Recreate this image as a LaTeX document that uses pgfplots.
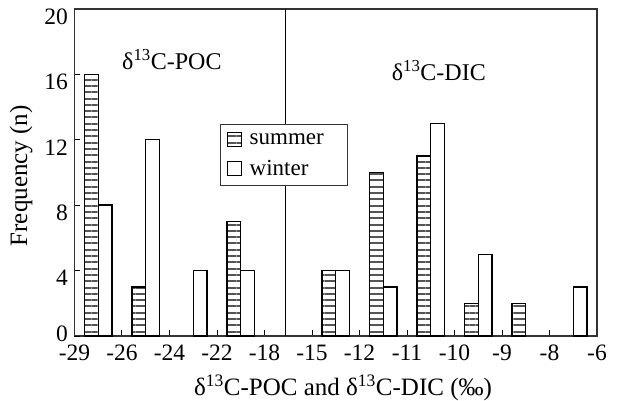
\documentclass[border=0pt]{standalone}
\usepackage{fontspec}
\setmainfont{Liberation Serif}
\usepackage{pgfplots}
\pgfplotsset{compat=1.18}
\usetikzlibrary{patterns.meta}
\definecolor{axgray}{HTML}{333333}
\definecolor{stripe}{HTML}{555555}
\begin{document}
\begin{tikzpicture}
\begin{axis}[
  name=ax,
  scale only axis,
  width=522.5bp, height=327bp,
  xmin=0, xmax=11, ymin=0, ymax=20,
  xtick={0,...,11},
  xticklabels={-29,-26,-24,-22,-18,-15,-12,-11,-10,-9,-8,-6},
  ytick={4,8,...,20},
  extra y ticks={0},
  extra y tick style={yticklabel style={yshift=10bp}},
  tick align=inside,
  xtick pos=bottom, ytick pos=left,
  major tick length=6bp,
  axis line style={line width=1.6bp, axgray},
  tick style={line width=1bp, black},
  /pgf/number format/assume math mode=true,
  tick label style={font=\fontsize{23.5bp}{27bp}\selectfont},
  xticklabel style={yshift=-5bp},
  yticklabel style={xshift=-3bp, yshift=-7.5bp},
  xlabel={δ\textsuperscript{13}C-POC and δ\textsuperscript{13}C-DIC (‰)},
  ylabel={Frequency (n)},
  label style={font=\fontsize{25bp}{30bp}\selectfont},
  xlabel style={at={(axis description cs:0.514,-0.158)}, anchor=center},
  ylabel style={at={(axis description cs:-0.102,0.49)}, anchor=center, rotate=0},
  legend style={at={(axis description cs:0.2785,0.648)}, anchor=north west,
    draw=axgray, line width=1bp, fill=white,
    font=\fontsize{23bp}{27bp}\selectfont,
    inner xsep=6bp, inner ysep=7bp, row sep=10bp,
    /tikz/every odd column/.append style={column sep=6bp},
    cells={anchor=west}},
  legend image code/.code={\draw[#1, line width=1.2bp] (0bp,-7bp) rectangle (14bp,7bp);},
  clip=false,
]
\addplot[ybar, bar width=0.29, bar shift=0, draw=black, line width=1.4bp,
  pattern={Lines[angle=0,distance=6.3bp,line width=2bp]}, pattern color=stripe]
  coordinates {(0.355,16) (1.355,3) (3.355,7) (5.355,4) (6.355,10) (7.355,11) (8.355,2) (9.355,2)};
\addlegendentry{summer\rule{16bp}{0pt}}
\addplot[ybar, bar width=0.29, bar shift=0, draw=black, fill=white, line width=1.4bp]
  coordinates {(0.645,8) (1.645,12) (2.645,4) (3.645,4) (5.645,4) (6.645,3) (7.645,13) (8.645,5) (10.645,3)};
\addlegendentry{winter}
\addplot[black, line width=1.2bp, forget plot] coordinates {(4.44,0) (4.44,20)};
\node[font=\fontsize{24bp}{28bp}\selectfont] at (axis cs:2.05,16.9) {δ\textsuperscript{13}C-POC};
\node[font=\fontsize{24bp}{28bp}\selectfont] at (axis cs:7.67,16.25) {δ\textsuperscript{13}C-DIC};
\end{axis}
\pgfresetboundingbox
\path[use as bounding box] ([shift={(-74.5bp,-65bp)}]ax.south west) rectangle ([shift={(22bp,9bp)}]ax.north east);
\end{tikzpicture}
\end{document}
